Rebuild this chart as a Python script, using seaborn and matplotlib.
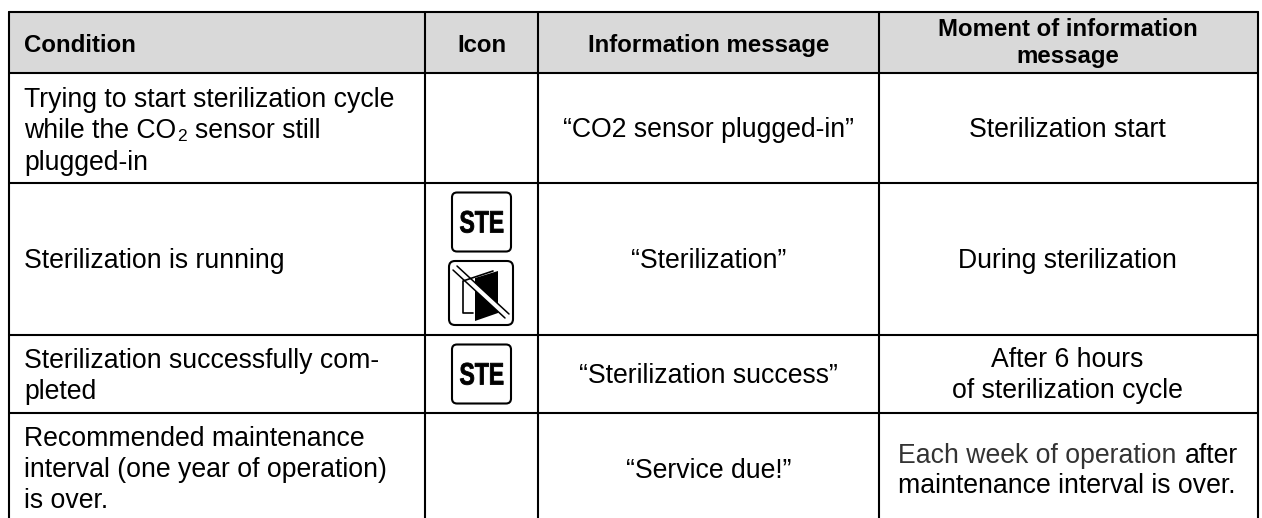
import matplotlib
matplotlib.use("Agg")
import matplotlib.pyplot as plt
from matplotlib.patches import FancyBboxPatch, Polygon, Rectangle
from matplotlib.patheffects import AbstractPathEffect
from matplotlib.transforms import Affine2D
import pandas as pd
import seaborn as sns

header = ["Condition", "Icon", "Information message", "Moment of information", "message"]
conditions = [
    "Trying to start sterilization cycle",
    "while the CO",
    "sensor still",
    "plugged-in",
    "Sterilization is running",
    "Sterilization successfully com-",
    "pleted",
    "Recommended maintenance",
    "interval (one year of operation)",
    "is over.",
]
messages = ["“CO2 sensor plugged-in”", "“Sterilization”", "“Sterilization success”", "“Service due!”"]
moments = ["Sterilization start", "During sterilization", "After 6 hours", "of sterilization cycle"]
last_moment = ["Each week of operation", "after", "maintenance interval is over."]

col_edges = [9, 425, 538, 878.5, 1257.5]
row_edges = [12, 73, 183, 334.5, 413]
table_bottom = 518
BODY = 19.2
BOLD = 17.3
RULE_LW = 1.5


class SqueezeX(AbstractPathEffect):
    # no narrow bold font here, so squeeze the glyph outlines and thicken them a bit
    def __init__(self, factor, stroke):
        super().__init__()
        self.factor = factor
        self.stroke = stroke

    def draw_path(self, renderer, gc, tpath, affine, rgbFace=None):
        gc0 = renderer.new_gc()
        gc0.copy_properties(gc)
        gc0.set_linewidth(self.stroke)
        gc0.set_foreground("black")
        renderer.draw_path(gc0, tpath, Affine2D().scale(self.factor, 1) + affine, rgbFace)
        gc0.restore()


def text(ax, x, y, s, color="black", ha="left", weight="normal", size=BODY):
    return ax.text(x, y, s, color=color, ha=ha, va="baseline", fontweight=weight, fontsize=size)


def rules_frame():
    rows = []
    for i, x in enumerate(col_edges):
        rows += [("v%d" % i, x, row_edges[0]), ("v%d" % i, x, table_bottom)]
    for i, y in enumerate(row_edges):
        rows += [("h%d" % i, col_edges[0], y), ("h%d" % i, col_edges[-1], y)]
    return pd.DataFrame(rows, columns=["rule", "x", "y"])


def ste_icon(ax, x, y):
    ax.add_patch(FancyBboxPatch((x, y), 59, 59, boxstyle="round,pad=0,rounding_size=5",
                                fc="white", ec="black", lw=1.5))
    t = text(ax, x + 7.5, y + 40, "STE", weight="bold", size=22.3)
    t.set_path_effects([SqueezeX(0.74, 0.6)])


def door_icon(ax, x, y):
    ax.add_patch(FancyBboxPatch((x, y), 64, 64, boxstyle="round,pad=0,rounding_size=6",
                                fc="white", ec="black", lw=1.5))
    ax.plot([x + 44, x + 14, x + 14, x + 24], [y + 10, y + 20, y + 52, y + 52], color="black", lw=1.2)
    ax.add_patch(Polygon([(x + 26, y + 17), (x + 49, y + 10), (x + 49, y + 52), (x + 26, y + 60)],
                         fc="black", ec="none"))
    # slash through the door: white band with a black edge on both sides
    ax.add_patch(Polygon([(x + 8, y + 5), (x + 60, y + 53), (x + 56, y + 57), (x + 4, y + 9)],
                         fc="white", ec="none"))
    ax.plot([x + 8, x + 60], [y + 5, y + 53], color="black", lw=1.1)
    ax.plot([x + 4, x + 56], [y + 9, y + 57], color="black", lw=1.1)


sns.set_theme(style="white")
plt.rcParams["font.family"] = ["Liberation Sans", "DejaVu Sans"]

fig = plt.figure(figsize=(12.62, 5.18), dpi=100)
ax = fig.add_axes([0, 0, 1, 1])
ax.set_xlim(0, 1262)
ax.set_ylim(518, 0)
ax.axis("off")

ax.add_patch(Rectangle((col_edges[0], row_edges[0]), col_edges[-1] - col_edges[0],
                       row_edges[1] - row_edges[0], fc="#d9d9d9", ec="none"))
sns.lineplot(data=rules_frame(), x="x", y="y", units="rule", estimator=None, sort=False,
             color="black", linewidth=RULE_LW, ax=ax, legend=False)

# header
text(ax, 24, 52, header[0], weight="bold", size=BOLD)
text(ax, 481.5, 52, header[1], weight="bold", size=BOLD, ha="center")
text(ax, 708.5, 52, header[2], weight="bold", size=BOLD, ha="center")
text(ax, 1067.5, 36, header[3], weight="bold", size=BOLD, ha="center")
text(ax, 1067.5, 63, header[4], weight="bold", size=BOLD, ha="center")

# condition column
text(ax, 24, 107, conditions[0])
t = text(ax, 24, 138.5, conditions[1])
fig.canvas.draw()
x_end = ax.transData.inverted().transform(t.get_window_extent().get_points())[1, 0]
text(ax, x_end + 1, 141, "2", size=12.5)
text(ax, 195, 138.5, conditions[2])
text(ax, 24, 170, conditions[3])
text(ax, 24, 268, conditions[4])
text(ax, 24, 368, conditions[5])
text(ax, 24, 399, conditions[6])
text(ax, 24, 446, conditions[7])
text(ax, 24, 477, conditions[8])
text(ax, 24, 508, conditions[9])

# icons
ste_icon(ax, 452, 192.5)
door_icon(ax, 449, 261)
ste_icon(ax, 452, 344.5)

# message column
for msg, y in zip(messages, [137, 268, 383, 478]):
    text(ax, 708.5, y, msg, ha="center")

# moment column
for moment, y in zip(moments, [137, 268, 367, 398]):
    text(ax, 1067.5, y, moment, ha="center")
text(ax, 898, 463, last_moment[0], color="#333333")
text(ax, 1185, 463, last_moment[1])
text(ax, 898, 493, last_moment[2])

fig.savefig("out.png", dpi=100, facecolor="white")
plt.close(fig)
